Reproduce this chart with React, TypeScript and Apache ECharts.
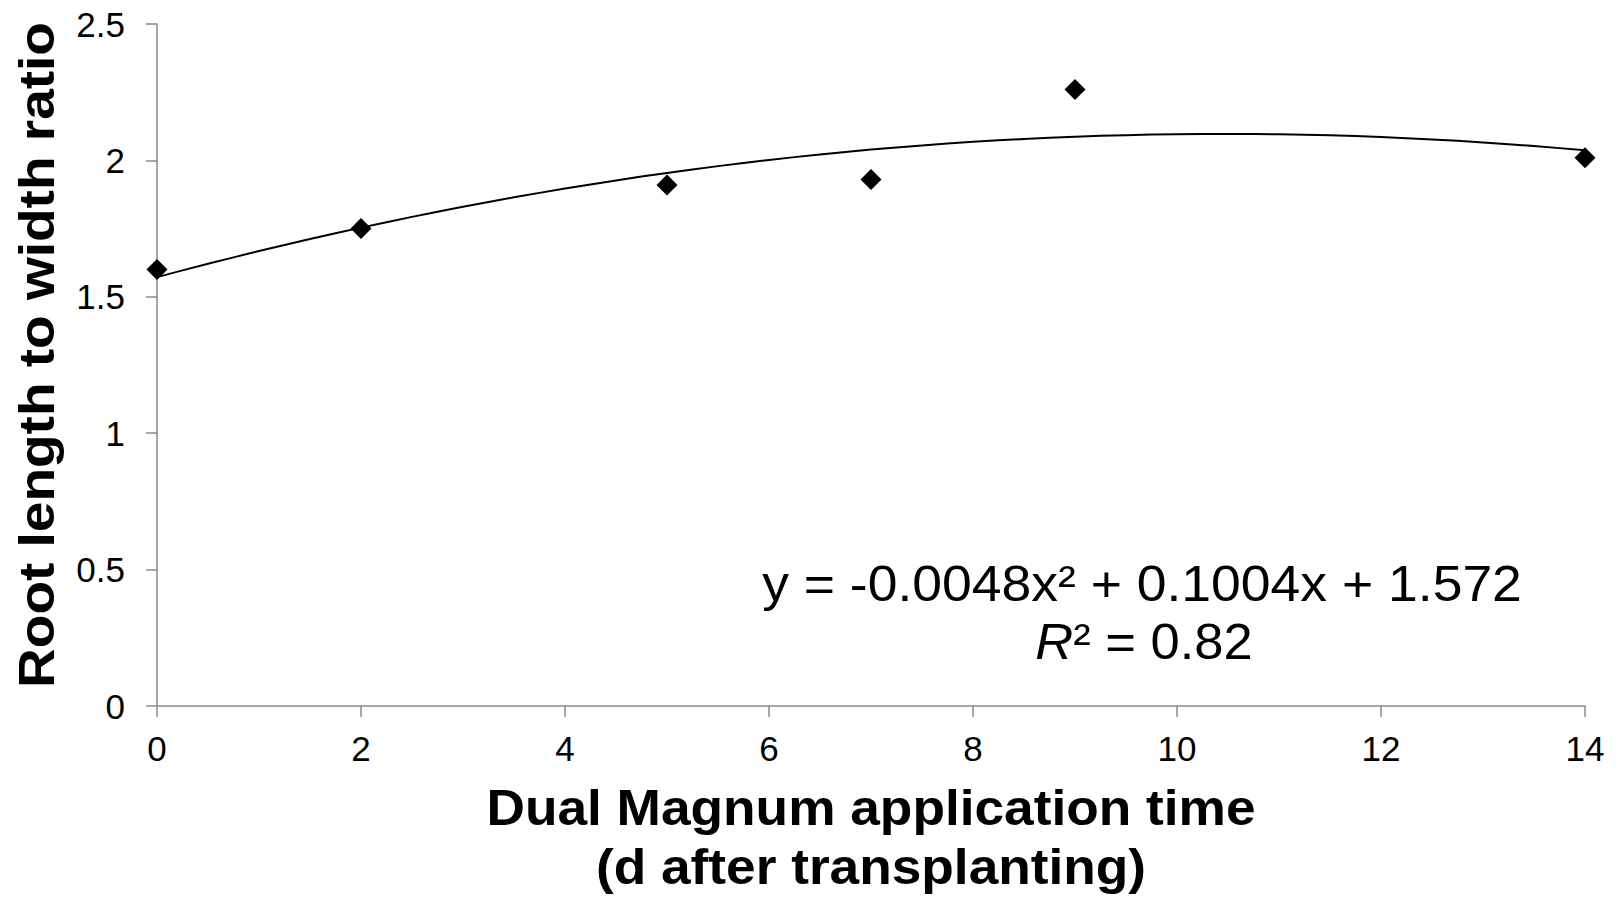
import { useEffect, useRef } from "react";
import * as echarts from "echarts";

// Measured data points
const DAYS = [0, 2, 5, 7, 9, 14];
const RATIO = [1.6, 1.75, 1.91, 1.93, 2.26, 2.01];

// Polynomial trendline shown on the chart: y = a x^2 + b x + c
const TREND_COEF = [-0.0048, 0.1004, 1.572];
const TREND_RANGE = [0, 14];

// Axis settings
const X_TICKS = [0, 2, 4, 6, 8, 10, 12, 14];
const Y_TICKS = [0, 0.5, 1, 1.5, 2, 2.5];

const X_TITLE = ["Dual Magnum application time", "(d after transplanting)"];
const Y_TITLE = "Root length to width ratio";
const EQ_TEXT = "y = -0.0048x² + 0.1004x + 1.572";
const R2_VALUE = "0.82";

const FONT = '"Liberation Sans", Arial, Helvetica, sans-serif';

export default function App() {
  const ref = useRef<HTMLDivElement>(null);

  useEffect(() => {
    document.body.style.margin = "0";
    document.body.style.overflow = "hidden";
    if (!ref.current) return;
    const chart = echarts.init(ref.current, undefined, { renderer: "svg" });

    const [a, b, c] = TREND_COEF;
    const n = 56;
    const trend: number[][] = [];
    for (let i = 0; i <= n; i++) {
      const x = TREND_RANGE[0] + ((TREND_RANGE[1] - TREND_RANGE[0]) * i) / n;
      trend.push([x, a * x * x + b * x + c]);
    }

    const gridLeft = 157;
    const gridRight = 34;
    const gridTop = 24;
    const gridBottom = 193;
    const W = 1619;
    const plotCx = gridLeft + (W - gridLeft - gridRight) / 2;

    const axisColor = "#8a8a8a";

    chart.setOption({
      animation: false,
      backgroundColor: "#ffffff",
      grid: {
        left: gridLeft,
        right: gridRight,
        top: gridTop,
        bottom: gridBottom,
        containLabel: false,
        outerBoundsMode: "none",
      },
      xAxis: {
        type: "value",
        min: X_TICKS[0],
        max: X_TICKS[X_TICKS.length - 1],
        interval: X_TICKS[1] - X_TICKS[0],
        axisLine: { show: true, lineStyle: { color: axisColor, width: 1.5 } },
        axisTick: { show: true, length: 11, lineStyle: { color: axisColor, width: 1.5 } },
        axisLabel: { color: "#000", fontSize: 35, fontFamily: FONT, margin: 25 },
        splitLine: { show: false },
      },
      yAxis: {
        type: "value",
        min: Y_TICKS[0],
        max: Y_TICKS[Y_TICKS.length - 1],
        interval: Y_TICKS[1] - Y_TICKS[0],
        axisLine: { show: true, lineStyle: { color: axisColor, width: 1.5 } },
        axisTick: { show: true, length: 11, lineStyle: { color: axisColor, width: 1.5 } },
        axisLabel: { color: "#000", fontSize: 35, fontFamily: FONT, margin: 32 },
        splitLine: { show: false },
      },
      series: [
        {
          type: "line",
          data: trend,
          showSymbol: false,
          symbol: "none",
          lineStyle: { color: "#000", width: 2 },
          z: 2,
          silent: true,
        },
        {
          type: "scatter",
          data: DAYS.map((d, i) => [d, RATIO[i]]),
          symbol: "diamond",
          symbolSize: 21,
          itemStyle: { color: "#000", opacity: 1 },
          z: 3,
        },
      ],
      graphic: [
        {
          type: "text",
          x: 36,
          y: 355,
          rotation: Math.PI / 2,
          scaleX: 1.1,
          style: {
            text: Y_TITLE,
            fontFamily: FONT,
            fontWeight: "bold",
            fontSize: 50,
            fill: "#000",
            align: "center",
            verticalAlign: "middle",
          },
        },
        {
          type: "text",
          x: plotCx,
          y: 808,
          scaleX: 1.065,
          style: {
            text: X_TITLE[0],
            fontFamily: FONT,
            fontWeight: "bold",
            fontSize: 50,
            fill: "#000",
            align: "center",
            verticalAlign: "middle",
          },
        },
        {
          type: "text",
          x: plotCx,
          y: 867,
          scaleX: 1.065,
          style: {
            text: X_TITLE[1],
            fontFamily: FONT,
            fontWeight: "bold",
            fontSize: 50,
            fill: "#000",
            align: "center",
            verticalAlign: "middle",
          },
        },
        {
          type: "text",
          x: 1142,
          y: 584,
          scaleX: 1.07,
          style: {
            text: EQ_TEXT,
            fontFamily: FONT,
            fontSize: 50,
            fill: "#000",
            align: "center",
            verticalAlign: "middle",
          },
        },
        {
          type: "text",
          x: 1144,
          y: 642,
          scaleX: 1.05,
          style: {
            text: "{i|R}{n|² = " + R2_VALUE + "}",
            fontFamily: FONT,
            fontSize: 50,
            fill: "#000",
            align: "center",
            verticalAlign: "middle",
            rich: {
              i: { fontFamily: FONT, fontSize: 50, fontStyle: "italic", fill: "#000" },
              n: { fontFamily: FONT, fontSize: 50, fill: "#000" },
            },
          },
        },
      ],
    });

    return () => chart.dispose();
  }, []);

  return <div ref={ref} style={{ width: 1619, height: 899 }} />;
}
